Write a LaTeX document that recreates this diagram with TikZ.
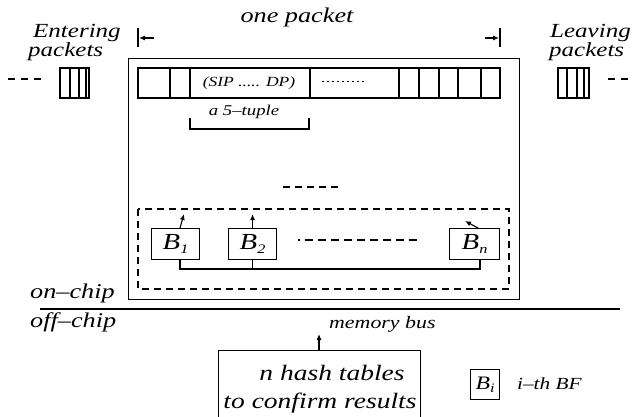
\documentclass[tikz,border=0pt]{standalone}
\usepackage{fontspec}
\usepackage{graphicx}
\setmainfont{Liberation Serif}[ItalicFont={Liberation Serif Italic}]
\usetikzlibrary{arrows.meta}
\newcommand{\wt}[1]{\scalebox{1.25}[1]{#1}}
\tikzset{
  lbl/.style={inner sep=0pt, font=\itshape\fontsize{#1}{#1}\selectfont},
  lbl/.default=20,
  box/.style={draw, line width=1.1pt},
  bf/.style={draw, line width=1.1pt, minimum width=48pt, minimum height=31pt, inner sep=0pt, font=\itshape\fontsize{23}{23}\selectfont},
  pin/.style={line width=1.1pt, -{Latex[length=6pt,width=5pt]}},
  ln/.style={line width=1.1pt},
}
\newcommand{\bsub}[1]{\wt{B\raisebox{-0.35ex}{\fontsize{13}{13}\selectfont #1}}}
\begin{document}
\begin{tikzpicture}[x=1pt,y=-1pt]
\useasboundingbox (0,0) rectangle (634,417);
\clip (0,0) rectangle (634,417);
% labels top
\node[lbl=20, anchor=base west] (ent) at (33,38) {\wt{Entering}};
\node[lbl=20, anchor=base west] (entp) at (28,57) {\wt{packets}};
\node[lbl=20, anchor=base west] (lea) at (550,38) {\wt{Leaving}};
\node[lbl=20, anchor=base west] (leap) at (549,57) {\wt{packets}};
\node[lbl=21, anchor=base] (onep) at (297,23) {\wt{one packet}};
% packet extent markers
\coordinate (lb1) at (138,28); \coordinate (lb2) at (138,47);
\coordinate (rb1) at (500,28); \coordinate (rb2) at (500,47);
\draw[ln] (lb1) -- (lb2);
\draw[ln] (rb1) -- (rb2);
\coordinate (la) at (154,38); \coordinate (lt) at (139,38);
\coordinate (ra) at (485,38); \coordinate (rt) at (499,38);
\draw[pin] (la) -- (lt);
\draw[pin] (ra) -- (rt);
% small packets
\draw[ln] (60,68) rectangle (89,98);
\foreach \x in {70,79,86} \draw[ln] (\x,68) -- (\x,98);
\draw[ln] (558,68) rectangle (589,98);
\foreach \x in {567,577,584} \draw[ln] (\x,68) -- (\x,98);
\draw[ln, dash pattern=on 7pt off 6pt] (8,79) -- (44,79);
\draw[ln, dash pattern=on 7pt off 6pt] (608,79) -- (634,79);
% main box
\node[box, minimum width=391pt, minimum height=241pt, inner sep=0pt, anchor=north west] (main) at (128,58) {};
% packet row
\draw[ln] (138,68) rectangle (500,98);
\foreach \x in {170,190,310,399,419,439,458,481} \draw[ln] (\x,68) -- (\x,98);
\node[lbl=14] (sip) at (249,83) {\wt{(SIP ..... DP)}};
\draw[line width=0.9pt, dash pattern=on 2pt off 3pt] (322,81) -- (366,81);
\draw[ln] (190,118) -- (190,129) -- (309,129) -- (309,118);
\node[lbl=15] (tup) at (244,112) {\wt{a 5--tuple}};
\draw[ln, dash pattern=on 7pt off 5pt] (283,187) -- (340,187);
% dashed BF region
\draw[ln, dash pattern=on 7pt off 5pt] (138,209) rectangle (509,289);
\node[bf, anchor=north west] (b1) at (151,228) {\bsub{1}};
\node[bf, anchor=north west] (b2) at (228,228) {\bsub{2}};
\node[bf, anchor=north west, minimum width=50pt] (bn) at (449,228) {\bsub{n}};
\draw[ln, dash pattern=on 1.5pt off 5pt on 8pt off 5pt on 8pt off 5pt on 8pt off 5pt on 8pt off 5pt on 8pt off 5pt on 8pt off 5pt on 8pt off 5pt on 8pt off 5pt on 8pt off 5pt] (298,240) -- (420,240);
\coordinate (bus) at (180,269);
\draw[ln] (b1.south -| 180,0) -- (180,269) -- (480,269) -- (bn.south -| 480,0);
\draw[ln] (b2.south) -- (b2.south |- bus);
\draw[pin] (180,228) -- (184,214);
\draw[pin] (b2.north) -- ++(0,-14);
\draw[pin] (478,228) -- (465,221);
% chip boundary
\node[lbl=21, anchor=base west] (on) at (30,298) {\wt{on--chip}};
\node[lbl=21, anchor=base west] (off) at (30,327) {\wt{off--chip}};
\draw[ln] (40,309) -- (620,309);
\node[lbl=17.5, anchor=base west] (mem) at (329,328) {\wt{memory bus}};
% hash tables
\node[box, minimum width=202pt, minimum height=80pt, inner sep=0pt, anchor=north west] (hash) at (218,350) {};
\draw[pin] (319,350) -- (319,334);
\node[lbl=22, anchor=base] (h1) at (332,380) {\wt{n hash tables}};
\node[lbl=22, anchor=base] (h2) at (320,408) {\wt{to confirm results}};
% legend
\node[draw, line width=1.1pt, minimum width=29pt, minimum height=30pt, inner sep=0pt, anchor=north west, font=\itshape\fontsize{19}{19}\selectfont] (bi) at (470,369) {\bsub{i}};
\node[lbl=17, anchor=base west] (ith) at (517,389) {\wt{i--th BF}};
\end{tikzpicture}
\end{document}
